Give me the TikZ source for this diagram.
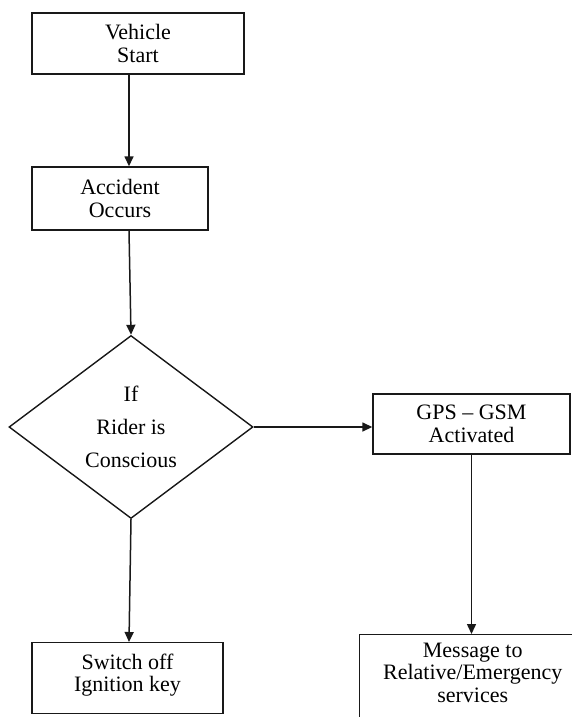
\documentclass[tikz,border=0pt]{standalone}
\usepackage{fontspec}
\setmainfont{Liberation Serif}
\usetikzlibrary{shapes.geometric,arrows.meta}
\tikzset{
  box/.style={draw=black!90, line width=1.4pt, rectangle, align=center, inner sep=0pt,
    font=\fontsize{22}{22.5}\selectfont, text=black},
  decision/.style={draw=black!90, line width=1.4pt, diamond, align=center, inner sep=0pt,
    font=\fontsize{22}{33}\selectfont, text=black},
  flow/.style={draw=black!90, line width=1.5pt, -{Triangle[length=10pt,width=9pt]}}
}
\begin{document}
\begin{tikzpicture}[x=1pt,y=-1pt]
\useasboundingbox (0,0) rectangle (572,717);
\clip (0,0) rectangle (572,717);
\coordinate (ax) at (129,0);
\node[box, minimum width=212pt, minimum height=61pt] (vs) at (138,43.5) {Vehicle\\Start};
\node[box, minimum width=176pt, minimum height=63pt] (acc) at (120,198.5) {Accident\\Occurs};
\node[decision, minimum width=244pt, minimum height=183pt] (dia) at (131,427) {If\\Rider is\\Conscious};
\node[box, minimum width=197pt, minimum height=60pt] (gps) at (471.5,424) {GPS -- GSM\\Activated};
\node[box, anchor=north, minimum width=191pt, inner ysep=11pt, text depth=11pt] (sw) at (127.5,642) {Switch off\\Ignition key};
\node[box, anchor=north west, minimum width=226pt, text depth=60pt, inner ysep=8pt] (msg) at (359,634) {Message to\\Relative/Emergency\\services};
\draw[flow] (vs.south -| ax) -- (acc.north -| ax);
\draw[flow] (acc.south -| ax) -- (dia.north);
\draw[flow] (dia.south) -- (sw.north -| ax);
\draw[flow] (dia.east) -- (dia.east -| gps.west);
\draw[flow] (gps.south) -- (gps.south |- msg.north);
\end{tikzpicture}
\end{document}
